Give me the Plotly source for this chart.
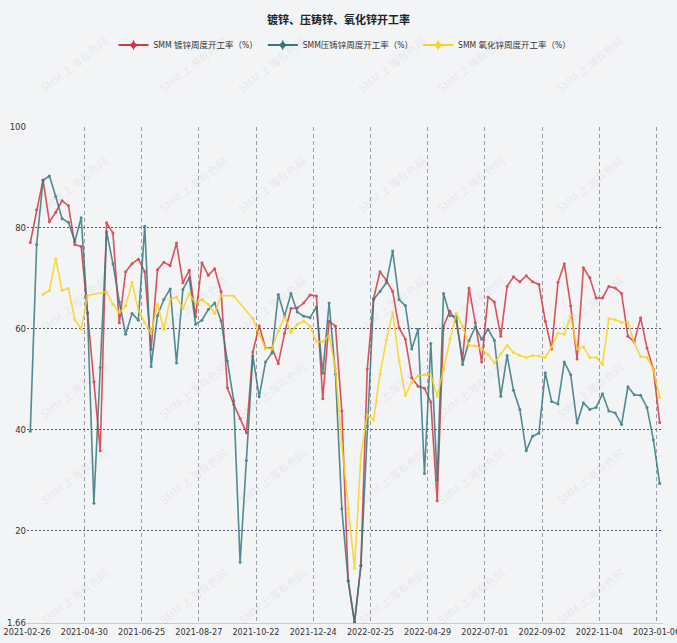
import plotly.graph_objects as go

# ---------------- data ----------------
tick_labels = ["2021-02-26", "2021-04-30", "2021-06-25", "2021-08-27", "2021-10-22",
               "2021-12-24", "2022-02-25", "2022-04-29", "2022-07-01", "2022-09-02",
               "2022-11-04", "2023-01-06"]
label_step = 9          # one label every 9 weekly categories
n_weeks = 100

galv = [77.1, 83.6, 89.5, 81.2, 83.1, 85.4, 84.4, 76.7, 76.3, 63.2,
        49.5, 35.8, 81.0, 79.0, 61.2, 71.3, 72.9, 73.8, 71.3, 55.9,
        71.7, 73.2, 72.5, 77.0, 69.1, 71.6, 62.4, 73.1, 70.6, 71.9,
        67.4, 48.3, 45.0, 42.2, 39.4, 55.4, 60.6, 56.2, 56.2, 53.1,
        59.1, 64.0, 64.1, 65.1, 66.7, 66.5, 46.1, 61.5, 60.5, 43.7,
        10.0, 1.8, 13.1, 52.0, 66.0, 71.3, 69.6, 67.4, 60.2, 57.9,
        50.3, 48.6, 48.2, 45.5, 25.9, 60.5, 63.5, 61.5, 54.0, 68.1,
        61.2, 53.4, 66.3, 65.3, 58.5, 68.4, 70.3, 69.3, 70.5, 69.3,
        68.8, 61.5, 56.0, 69.2, 72.9, 64.5, 54.0, 72.1, 70.1, 66.1,
        66.1, 68.4, 68.1, 67.0, 58.5, 57.4, 62.2, 56.2, 52.0, 41.4]

diecast = [39.7, 76.7, 89.4, 90.3, 86.2, 81.8, 81.1, 77.3, 82.0, 63.0,
           25.4, 52.3, 79.2, 72.9, 65.3, 58.9, 63.0, 61.7, 80.3, 52.5,
           62.6, 65.8, 67.9, 53.2, 67.8, 70.1, 60.9, 61.7, 63.8, 65.1,
           61.6, 53.6, 45.7, 13.7, 33.9, 54.6, 46.5, 53.4, 55.2, 66.8,
           62.5, 67.0, 63.3, 62.5, 62.2, 64.3, 51.2, 65.1, 51.0, 24.3,
           10.1, 1.8, 13.0, 40.7, 65.8, 67.4, 69.1, 75.4, 65.8, 64.6,
           56.0, 59.9, 31.3, 57.1, 30.0, 67.0, 62.6, 62.4, 52.9, 57.6,
           60.4, 57.9, 59.9, 57.7, 46.6, 54.7, 47.8, 44.0, 35.8, 38.7,
           39.3, 51.3, 45.6, 45.1, 53.4, 50.9, 41.3, 45.3, 44.0, 44.4,
           47.1, 43.7, 43.3, 41.0, 48.5, 46.9, 46.8, 44.4, 38.0, 29.3]

oxide = [None, None, 66.8, 67.6, 73.9, 67.6, 68.0, 61.8, 59.9, 66.6,
         None, None, 67.3, 64.8, 63.2, 64.5, 69.2, 63.7, 61.2, 59.1,
         64.8, 59.9, 65.8, 66.3, 64.0, 67.0, 65.0, 65.8, 64.8, 63.0,
         66.6, None, 66.5, None, None, 62.0, 58.9, 56.2, 56.0, 59.5,
         62.4, 59.3, 60.9, 61.5, 60.5, 57.4, 57.4, 58.7, 52.1, 37.1,
         24.3, 12.5, 34.8, 43.0, 41.9, 51.0, 57.7, 63.2, 53.7, 46.8,
         49.4, 50.7, 50.9, 50.9, 46.6, 52.1, 57.9, 63.0, 60.5, 56.7,
         56.6, 56.0, 54.9, 53.2, 55.0, 56.7, 55.3, 54.7, 54.3, 54.7,
         54.6, 54.3, 56.4, 59.1, 58.9, 62.6, 56.0, 56.4, 54.3, 54.3,
         52.9, 62.0, 61.8, 61.3, 61.3, 57.2, 54.5, 54.3, 52.0, 46.4]

series_names = ["SMM 镀锌周度开工率（%）", "SMM压铸锌周度开工率（%）", "SMM 氧化锌周度开工率（%）"]
series_colors = ["#d6363f", "#35797f", "#fbd21e"]
y_ticks = [1.66, 20, 40, 60, 80, 100]

# ---------------- figure ----------------
W, H = 677, 643
ML, MR, MT, MB = 27, 14, 127, 20
x_idx = list(range(n_weeks))
fig = go.Figure()

for vals, name, col in zip([galv, diecast, oxide], series_names, series_colors):
    fig.add_trace(go.Scatter(
        x=x_idx, y=vals, mode="lines+markers", name=name,
        line=dict(color=col, width=1.6), marker=dict(color=col, size=3),
        connectgaps=True, showlegend=False, opacity=0.85))
    # legend entry with a bigger icon
    fig.add_trace(go.Scatter(
        x=[None], y=[None], mode="lines+markers", name=name,
        line=dict(color=col, width=2), marker=dict(color=col, size=8, symbol="star-diamond"),
        showlegend=True))

tick_pos = [i * label_step - 0.5 for i in range(len(tick_labels))] + [n_weeks - 0.5]
tick_txt = tick_labels + [""]

font_narrow = "DejaVu Sans Condensed, Noto Sans CJK SC, sans-serif"

# watermark annotations (pixel grid converted to paper coords)
plot_w = W - ML - MR
plot_h = H - MT - MB
wm = []
for wy in [30, 150, 270, 390, 510, 630]:
    for wx in [34, 153, 272, 392, 511, 630]:
        wm.append(dict(text="SMM 上海有色网", x=(wx - ML) / plot_w, y=(H - MB - wy) / plot_h,
                       xref="paper", yref="paper", showarrow=False, textangle=-38,
                       font=dict(size=11, color="rgba(120,125,140,0.12)",
                                 family="Noto Sans CJK SC")))

fig.update_layout(
    width=W, height=H,
    paper_bgcolor="#f3f4f6", plot_bgcolor="#f3f4f6",
    margin=dict(l=ML, r=MR, t=MT, b=MB, pad=0, autoexpand=False),
    title=dict(text="<b>镀锌、压铸锌、氧化锌开工率</b>", x=0.5, xanchor="center",
               y=1 - 20 / H, yanchor="middle", yref="container",
               font=dict(size=11, color="#222", family="Noto Sans CJK SC")),
    legend=dict(orientation="h", x=0.5, xanchor="center", y=1 - 45 / H, yanchor="middle",
                yref="container", font=dict(size=8.5, color="#333", family=font_narrow),
                itemwidth=30, tracegroupgap=0, bgcolor="rgba(0,0,0,0)"),
    xaxis=dict(range=[-0.52, n_weeks - 0.48], tickmode="array", tickvals=tick_pos,
               ticktext=tick_txt, showgrid=True, gridcolor="#9a9cab", griddash="4px,3px",
               gridwidth=1, zeroline=False, showline=True, linecolor="#c9cbd3",
               tickfont=dict(size=9, color="#333", family=font_narrow), ticks="",
               automargin=False, ticklabeloverflow="allow"),
    yaxis=dict(range=[1.66, 100], tickmode="array", tickvals=y_ticks,
               ticktext=[str(v) for v in y_ticks], showgrid=True, gridcolor="#50546e",
               griddash="2px,2px", gridwidth=1, zeroline=False, showline=False,
               tickfont=dict(size=9.5, color="#333", family=font_narrow), ticks="",
               automargin=False),
    annotations=wm,
    hovermode="x unified",
)

fig.write_html("out.html", config={"displayModeBar": False},
               post_script="document.body.style.margin='0px';document.body.style.overflow='hidden';")
